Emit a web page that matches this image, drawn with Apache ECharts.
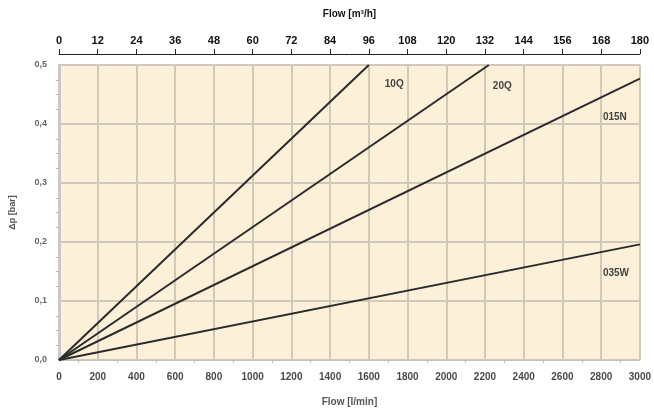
<!DOCTYPE html>
<html><head><meta charset="utf-8">
<script src="https://cdn.jsdelivr.net/npm/echarts@6/dist/echarts.min.js"></script>
<style>html,body{margin:0;padding:0;background:#fff}#c{width:654px;height:412px}</style>
</head><body><div id="c"></div>
<script>
// Data (flow in l/min, pressure drop in bar)
const seriesNames = ['10Q', '20Q', '015N', '035W'];
const flow10Q = [0, 1600];   const dp10Q = [0, 0.5];
const flow20Q = [0, 2220];   const dp20Q = [0, 0.5];
const flow015N = [0, 3000];  const dp015N = [0, 0.477];
const flow035W = [0, 3000];  const dp035W = [0, 0.196];
const topTicks = [0,12,24,36,48,60,72,84,96,108,120,132,144,156,168,180];

const font = '"Liberation Sans", Arial, sans-serif';
function pts(xs, ys){ return xs.map((x,i)=>[x, ys[i]]); }
const lineData = [pts(flow10Q,dp10Q), pts(flow20Q,dp20Q), pts(flow015N,dp015N), pts(flow035W,dp035W)];
const labelOffsets = [[16,19],[4,21],[-37,39],[-37,29]];

const chart = echarts.init(document.getElementById('c'), null, {renderer:'canvas'});
chart.setOption({
  animation:false,
  textStyle:{fontFamily:font},
  grid:{left:56, right:14, top:65, bottom:47, show:true, backgroundColor:'#fdf0d8', borderColor:'#c4c0b8', borderWidth:1},
  xAxis:[{
    type:'value', min:0, max:3000, interval:200, position:'bottom',
    name:'Flow [l/min]', nameLocation:'middle', nameGap:37,
    nameTextStyle:{color:'#555', fontSize:10, fontWeight:'bold', fontFamily:font},
    axisLine:{show:true, lineStyle:{color:'#c4c0b8', width:1}},
    axisTick:{show:false},
    minorTick:{show:true, splitNumber:2, length:3, lineStyle:{color:'#c4c0b8'}},
    axisLabel:{color:'#4a4a4a', fontSize:10, fontWeight:'bold', margin:12, fontFamily:font,
      formatter:(v)=> String(v)},
    splitLine:{show:true, lineStyle:{color:'#d0c8b8', width:2}}
  },{
    type:'value', min:0, max:180, interval:12, position:'top', offset:11,
    name:'Flow [m³/h]', nameLocation:'middle', nameGap:35,
    nameTextStyle:{color:'#111', fontSize:10, fontWeight:'bold', fontFamily:font},
    axisLine:{show:true, lineStyle:{color:'#222', width:1}},
    axisTick:{show:true, length:5, lineStyle:{color:'#222'}},
    axisLabel:{color:'#111', fontSize:11, fontWeight:'bold', margin:8, fontFamily:font,
      formatter:(v)=> topTicks.includes(v) ? String(v) : ''},
    splitLine:{show:false}
  }],
  yAxis:{
    type:'value', min:0, max:0.5, interval:0.1,
    name:'Δp [bar]', nameLocation:'middle', nameGap:42, nameRotate:90,
    nameTextStyle:{color:'#555', fontSize:9, fontWeight:'bold', fontFamily:font},
    axisLine:{show:true, lineStyle:{color:'#c8c8c8', width:3}},
    axisTick:{show:false},
    minorTick:{show:true, splitNumber:4, length:3, lineStyle:{color:'#bdb8ae'}},
    axisLabel:{color:'#666', fontSize:9, fontWeight:'bold', margin:12, fontFamily:font,
      formatter:(v)=> v.toFixed(1).replace('.', ',')},
    splitLine:{show:true, lineStyle:{color:'#d0c8b8', width:2}}
  },
  series: seriesNames.map((n,i)=>({
    name:n, type:'line', data:lineData[i], xAxisIndex:0, yAxisIndex:0,
    symbol:'none', lineStyle:{color:'#2b2b2b', width:2},
    endLabel:{show:true, formatter:'{a}', color:'#444', fontSize:10, fontWeight:'bold',
      fontFamily:font, distance:0, offset:labelOffsets[i], align:'left'}
  }))
});
</script></body></html>
